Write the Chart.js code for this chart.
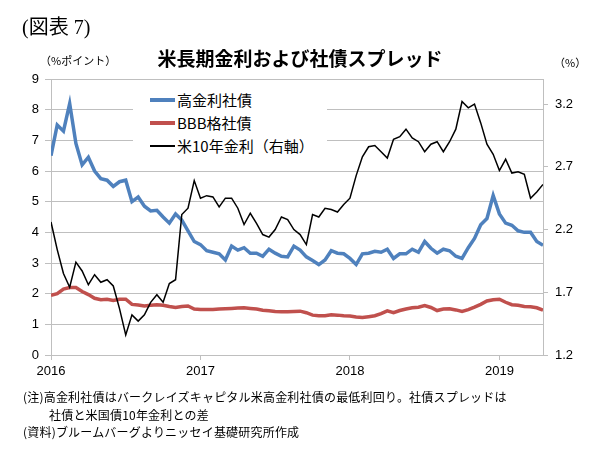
<!DOCTYPE html>
<html lang="ja">
<head>
<meta charset="utf-8">
<script src="https://cdn.jsdelivr.net/npm/chart.js@4.4.1/dist/chart.umd.min.js"></script>
<style>
  html, body { margin: 0; padding: 0; background: #fff; }
  #wrap { position: relative; width: 600px; height: 454px; overflow: hidden;
          font-family: "Noto Sans CJK JP", sans-serif; color: #000; }
  canvas { position: absolute; left: 0; top: 0; }
  .txt { position: absolute; white-space: nowrap; line-height: 1; }
  .note { font-size: 12px; letter-spacing: 0.2px; }
  #legend { position: absolute; left: 133px; top: 88px; width: 194px; height: 72px; background: #fff; }
  .item { position: absolute; left: 17px; height: 16px; font-size: 15px; line-height: 16px; white-space: nowrap; }
  .item i { position: absolute; left: 0; width: 25px; }
  .item span { position: absolute; left: 27px; top: 0; }
</style>
</head>
<body>
<div id="wrap">
  <canvas id="chart" width="600" height="454"></canvas>
  <div class="txt" style="left:22px; top:17px; font-size:20px; font-family:'Liberation Serif','Noto Sans CJK JP',serif;">(図表 7)</div>
  <div class="txt" style="left:0; width:600px; text-align:center; top:48px; font-size:19px; font-weight:bold;">米長期金利および社債スプレッド</div>
  <div class="txt" style="left:40px; top:55px; font-size:11px;">（%ポイント）</div>
  <div class="txt" style="left:554px; top:57px; font-size:11px;">（%）</div>
  <div id="legend">
    <div class="item" style="top:4px;"><i style="height:4px; top:6px; background:#4f81bd;"></i><span>高金利社債</span></div>
    <div class="item" style="top:27px;"><i style="height:4px; top:6px; background:#c0504d;"></i><span>BBB格社債</span></div>
    <div class="item" style="top:50px;"><i style="height:2px; top:7px; background:#000;"></i><span>米10年金利（右軸）</span></div>
  </div>
  <div class="txt note" style="left:23px; top:391px;">(注)高金利社債はバークレイズキャピタル米高金利社債の最低利回り。社債スプレッドは</div>
  <div class="txt note" style="left:49px; top:409px;">社債と米国債10年金利との差</div>
  <div class="txt note" style="left:23px; top:426px;">(資料)ブルームバーグよりニッセイ基礎研究所作成</div>
</div>
<script>
// semi-monthly points, Jan 2016 to mid Apr 2019
const perYear = 24;
const yearTicks = ['2016', '2017', '2018', '2019'];

const highYield = [
  6.5, 7.5, 7.3, 8.2, 6.9, 6.2, 6.45, 6.0, 5.75, 5.7,
  5.5, 5.65, 5.7, 5.0, 5.15, 4.85, 4.7, 4.72, 4.5, 4.3,
  4.6, 4.4, 4.05, 3.7, 3.6, 3.4, 3.35, 3.3, 3.1, 3.55,
  3.42, 3.5, 3.32, 3.32, 3.22, 3.45, 3.32, 3.22, 3.2, 3.55,
  3.42, 3.2, 3.08, 2.95, 3.1, 3.4, 3.32, 3.3, 3.15, 2.95,
  3.3, 3.32, 3.38, 3.35, 3.45, 3.15, 3.3, 3.3, 3.45, 3.35,
  3.7, 3.48, 3.32, 3.45, 3.4, 3.22, 3.15, 3.5, 3.8, 4.25,
  4.45, 5.2, 4.6, 4.3, 4.23, 4.05, 4.0, 4.0, 3.7, 3.58
];

const bbb = [
  1.95, 2.0, 2.15, 2.2, 2.2, 2.07, 1.97, 1.85, 1.8, 1.82,
  1.78, 1.82, 1.82, 1.65, 1.63, 1.6, 1.62, 1.64, 1.62, 1.58,
  1.55, 1.58, 1.6, 1.5, 1.48, 1.48, 1.48, 1.5, 1.51, 1.52,
  1.53, 1.54, 1.52, 1.5, 1.46, 1.44, 1.42, 1.41, 1.41, 1.42,
  1.43, 1.38, 1.3, 1.28, 1.28, 1.31, 1.3, 1.28, 1.27, 1.24,
  1.22, 1.25, 1.28, 1.35, 1.44, 1.38, 1.45, 1.5, 1.54, 1.56,
  1.61, 1.55, 1.45, 1.5, 1.51, 1.47, 1.42, 1.48, 1.56, 1.65,
  1.76, 1.8, 1.82, 1.72, 1.64, 1.62, 1.58, 1.57, 1.54, 1.46
];

const ust10y = [
  2.26, 2.04, 1.85, 1.74, 1.94, 1.87, 1.76, 1.84, 1.78, 1.8,
  1.75, 1.57, 1.36, 1.52, 1.47, 1.52, 1.62, 1.68, 1.62, 1.77,
  1.8, 2.32, 2.37, 2.59, 2.45, 2.47, 2.46, 2.38, 2.45, 2.45,
  2.37, 2.24, 2.33, 2.25, 2.16, 2.14, 2.2, 2.3, 2.28, 2.2,
  2.16, 2.08, 2.32, 2.3, 2.37, 2.36, 2.34, 2.4, 2.45, 2.63,
  2.78, 2.86, 2.87, 2.82, 2.77, 2.92, 2.94, 3.0, 2.93, 2.9,
  2.82, 2.88, 2.9, 2.82, 2.9, 3.0, 3.22, 3.17, 3.2, 3.05,
  2.88, 2.8, 2.67, 2.76, 2.65, 2.66, 2.64, 2.45, 2.5, 2.56
];

const leftTicks = [0, 1, 2, 3, 4, 5, 6, 7, 8, 9];
const rightTicks = [1.2, 1.7, 2.2, 2.7, 3.2];

const toPoints = arr => arr.map((v, i) => ({ x: i, y: v }));
const gridGray = '#bfbfbf';
const tickFont = { family: "'Liberation Sans', Arial, sans-serif", size: 13 };

new Chart(document.getElementById('chart'), {
  type: 'line',
  data: {
    datasets: [
      { label: '米10年金利（右軸）', data: toPoints(ust10y), yAxisID: 'y2', order: 0,
        borderColor: '#000', borderWidth: 1.5, pointRadius: 0, tension: 0 },
      { label: '高金利社債', data: toPoints(highYield), yAxisID: 'y', order: 1,
        borderColor: '#4f81bd', borderWidth: 3.5, pointRadius: 0, tension: 0 },
      { label: 'BBB格社債', data: toPoints(bbb), yAxisID: 'y', order: 2,
        borderColor: '#c0504d', borderWidth: 3.5, pointRadius: 0, tension: 0 }
    ]
  },
  options: {
    responsive: false,
    animation: false,
    events: [],
    layout: { padding: { top: 79, left: 0, right: 0, bottom: 0 } },
    plugins: { legend: { display: false }, tooltip: { enabled: false } },
    scales: {
      x: {
        type: 'linear',
        min: 0,
        max: highYield.length - 1,
        afterBuildTicks: s => { s.ticks = yearTicks.map((_, k) => ({ value: k * perYear })); },
        afterFit: s => { s.height = 99; },
        grid: { drawOnChartArea: false, color: gridGray, tickLength: 5 },
        border: { display: true, color: gridGray },
        ticks: { color: '#000', font: tickFont, padding: 4, maxRotation: 0,
                 callback: v => yearTicks[Math.round(v / perYear)] }
      },
      y: {
        position: 'left',
        min: 0,
        max: 9,
        afterBuildTicks: s => { s.ticks = leftTicks.map(v => ({ value: v })); },
        afterFit: s => { s.width = 51; },
        grid: { color: gridGray, tickLength: 6 },
        border: { display: true, color: gridGray },
        ticks: { color: '#000', font: tickFont, padding: 6 }
      },
      y2: {
        position: 'right',
        min: 1.2,
        max: 3.4,
        afterBuildTicks: s => { s.ticks = rightTicks.map(v => ({ value: v })); },
        afterFit: s => { s.width = 57; },
        grid: { drawOnChartArea: false, color: gridGray, tickLength: 5 },
        border: { display: true, color: gridGray },
        ticks: { color: '#000', font: tickFont, padding: 7, callback: v => v.toFixed(1) }
      }
    }
  }
});
</script>
</body>
</html>
